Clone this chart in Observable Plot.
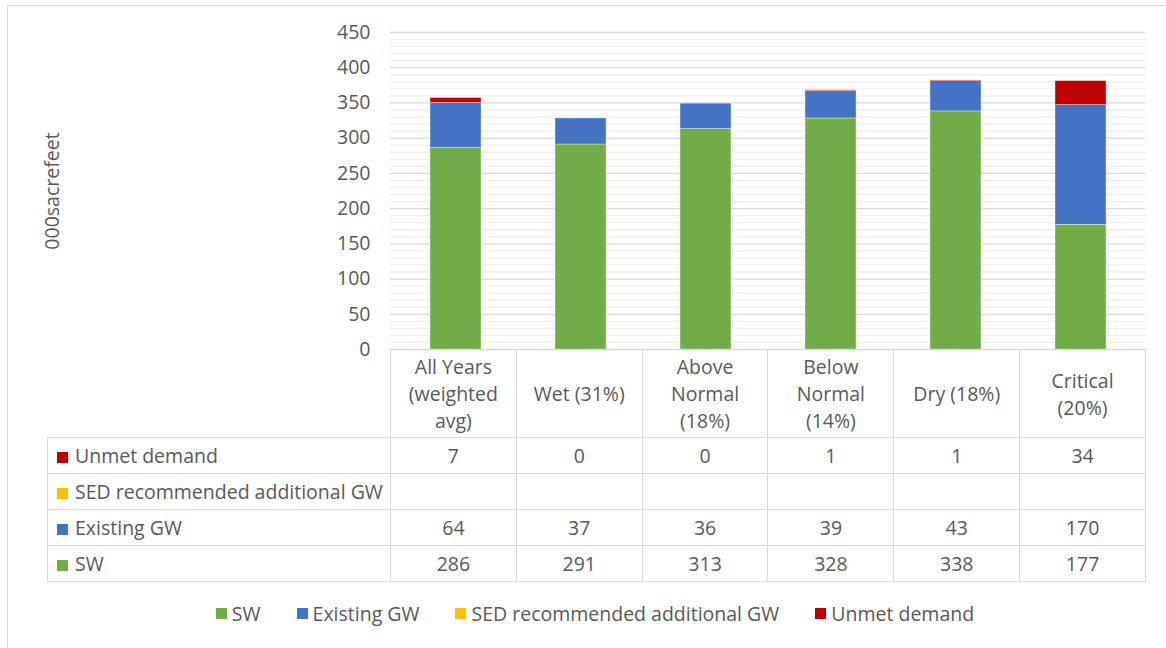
<!DOCTYPE html>
<html>
<head>
<meta charset="utf-8">
<script src="https://cdn.jsdelivr.net/npm/d3@7"></script>
<script src="https://cdn.jsdelivr.net/npm/@observablehq/plot@0.6"></script>
<style>
  html, body { margin: 0; padding: 0; background: #fff; }
  #wrap { position: relative; width: 1166px; height: 648px; overflow: hidden;
          font-family: "Open Sans", sans-serif; font-size: 19.5px; color: #595959; }
  #frame { position: absolute; left: 7px; top: 5px; width: 1170px; height: 660px;
           border: 1.5px solid #d9d9d9; box-sizing: border-box; }
  #chart { position: absolute; left: 0; top: 0; }
  table.dt { position: absolute; left: 47px; top: 349px; border-collapse: collapse;
             table-layout: fixed; font-size: 19.5px; color: #595959; }
  table.dt td { border: 1.5px solid #d9d9d9; padding: 0 4px; text-align: center;
                height: 36px; box-sizing: border-box; white-space: nowrap; }
  table.dt tr.head td { height: 88px; line-height: 27px; white-space: normal; }
  table.dt td.corner { border-top: none; border-left: none; }
  table.dt td.lab { text-align: left; padding-left: 9px; }
  .sq { display: inline-block; width: 11px; height: 11px; margin-right: 7px; vertical-align: 0px; }
  #legend { position: absolute; top: 600px; left: 0; width: 1190px; display: flex;
            justify-content: center; gap: 36px; font-size: 19.5px; color: #595959; }
  #legend span.item { display: inline-flex; align-items: center; }
</style>
</head>
<body>
<div id="wrap">
  <div id="frame"></div>
  <div id="chart"></div>
  <div id="table"></div>
  <div id="legend"></div>
</div>
<script>
// ---- data ----
const categories = ["All Years (weighted avg)", "Wet (31%)", "Above Normal (18%)", "Below Normal (14%)", "Dry (18%)", "Critical (20%)"];
const series = ["SW", "Existing GW", "SED recommended additional GW", "Unmet demand"];
const colors = ["#70ad47", "#4472c4", "#ffc000", "#c00000"];
const swValues = [286, 291, 313, 328, 338, 177];
const existingGwValues = [64, 37, 36, 39, 43, 170];
const sedValues = [null, null, null, null, null, null];
const unmetValues = [7, 0, 0, 1, 1, 34];
const yTicks = [0, 50, 100, 150, 200, 250, 300, 350, 400, 450];
const yMinorTicks = [10, 20, 30, 40, 60, 70, 80, 90, 110, 120, 130, 140, 160, 170, 180, 190,
  210, 220, 230, 240, 260, 270, 280, 290, 310, 320, 330, 340, 360, 370, 380, 390, 410, 420, 430, 440];
const yTitle = "000sacrefeet";

// ---- build long table ----
const seriesValues = [swValues, existingGwValues, sedValues, unmetValues];
const rows = [];
series.forEach((s, i) => {
  categories.forEach((c, j) => {
    const v = seriesValues[i][j];
    if (v != null) rows.push({category: c, series: s, value: v});
  });
});

const chart = Plot.plot({
  width: 1166,
  height: 360,
  marginLeft: 390,
  marginRight: 21,
  marginTop: 32,
  marginBottom: 11,
  x: {domain: categories, paddingInner: 0.595, paddingOuter: 0.2975, axis: null},
  y: {domain: [0, 450], axis: null},
  color: {domain: series, range: colors},
  style: {fontFamily: "'Open Sans', sans-serif", fontSize: "19.5px", color: "#595959", background: "transparent", overflow: "visible"},
  marks: [
    Plot.ruleY(yMinorTicks, {stroke: "#eeeeee", strokeWidth: 1.3}),
    Plot.ruleY(yTicks, {stroke: "#d9d9d9", strokeWidth: 1.3}),
    Plot.axisY({ticks: yTicks, tickSize: 0, tickPadding: 20, label: null, fill: "#595959", fontSize: 19.5}),
    Plot.barY(rows, Plot.stackY({x: "category", y: "value", fill: "series", order: series, stroke: "#ffffff", strokeWidth: 0.6, strokeOpacity: 0.6})),
    Plot.text([yTitle], {frameAnchor: "left", textAnchor: "middle", dx: -338, rotate: -90, fill: "#595959", fontSize: 19.5})
  ]
});
document.getElementById("chart").appendChild(chart);

// ---- data table ----
const colW = 755 / 6;
const tableRows = [
  {name: "Unmet demand", color: colors[3], values: unmetValues},
  {name: "SED recommended additional GW", color: colors[2], values: sedValues},
  {name: "Existing GW", color: colors[1], values: existingGwValues},
  {name: "SW", color: colors[0], values: swValues}
];
let html = '<table class="dt"><colgroup><col style="width:343px">' +
  categories.map(() => `<col style="width:${colW}px">`).join("") + '</colgroup>';
html += '<tr class="head"><td class="corner"></td>' + categories.map(c => `<td>${c}</td>`).join("") + '</tr>';
tableRows.forEach(r => {
  html += `<tr><td class="lab"><span class="sq" style="background:${r.color}"></span>${r.name}</td>` +
    r.values.map(v => `<td>${v == null ? "" : v}</td>`).join("") + '</tr>';
});
html += '</table>';
document.getElementById("table").innerHTML = html;

// ---- legend ----
document.getElementById("legend").innerHTML = series.map((s, i) =>
  `<span class="item"><span class="sq" style="background:${colors[i]};margin-right:5px"></span>${s}</span>`).join("");
</script>
</body>
</html>
